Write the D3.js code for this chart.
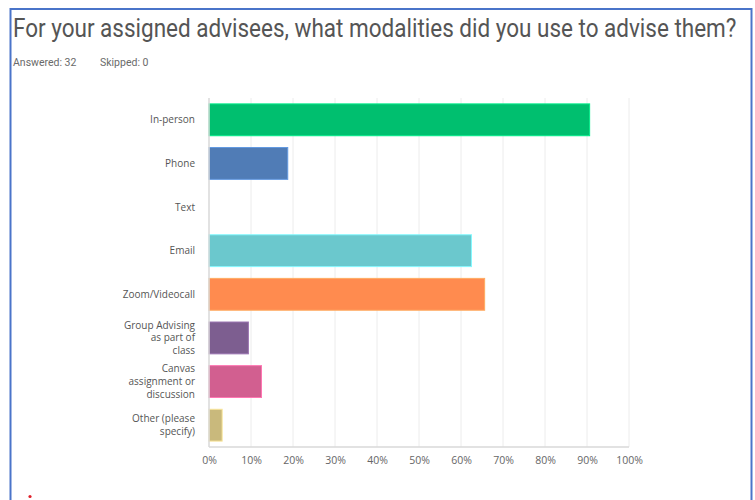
<!DOCTYPE html>
<html>
<head>
<meta charset="utf-8">
<script src="https://cdn.jsdelivr.net/npm/d3@7/dist/d3.min.js"></script>
<style>
  html, body { margin: 0; padding: 0; background: #fff; }
  svg { display: block; }
</style>
</head>
<body>
<script>
// Survey question and response counts
const title = "For your assigned advisees, what modalities did you use to advise them?";
const answered = 32;
const skipped = 0;

const categories = [
  ["In-person"],
  ["Phone"],
  ["Text"],
  ["Email"],
  ["Zoom/Videocall"],
  ["Group Advising", "as part of", "class"],
  ["Canvas", "assignment or", "discussion"],
  ["Other (please", "specify)"]
];
// share of respondents choosing each modality (%)
const values = [90.63, 18.75, 0, 62.5, 65.63, 9.38, 12.5, 3.13];
const colors = ["#00bf6f", "#507cb6", "#f9be00", "#6bc8cd", "#ff8b4f", "#7d5e90", "#d25f90", "#c9b97c"];
const tickValues = [0, 10, 20, 30, 40, 50, 60, 70, 80, 90, 100];

const rows = categories.map((lines, i) => ({ i, lines, value: values[i], color: colors[i] }));

const W = 755, H = 500;
const svg = d3.select("body").append("svg").attr("width", W).attr("height", H);

// panel frame
svg.append("rect")
  .attr("x", 10.5).attr("y", 9).attr("width", 741).attr("height", 520)
  .attr("fill", "none").attr("stroke", "#4a74c9").attr("stroke-width", 2);

// title, horizontally condensed to fit the panel width
const titleG = svg.append("g");
const titleText = titleG.append("text")
  .attr("x", 0).attr("y", 0)
  .attr("font-family", "Roboto, sans-serif").attr("font-size", 25)
  .attr("fill", "#555")
  .text(title);
const naturalW = titleText.node().getComputedTextLength();
const sx = Math.min(1, 724 / naturalW);
titleG.attr("transform", `translate(13,37) scale(${sx},1)`);

const meta = svg.append("text")
  .attr("y", 66)
  .attr("font-family", "Roboto, sans-serif").attr("font-size", 10.5)
  .attr("fill", "#6a6a6a");
meta.append("tspan").attr("x", 13).text(`Answered: ${answered}`);
meta.append("tspan").attr("x", 100).text(`Skipped: ${skipped}`);

const x = d3.scaleLinear().domain([0, 100]).range([209, 629]);
const y = d3.scaleBand().domain(d3.range(categories.length))
  .range([98, 447]).paddingInner(0.27).paddingOuter(0.135);

// vertical gridlines
svg.append("g").selectAll("line").data(tickValues.slice(1)).join("line")
  .attr("x1", d => x(d)).attr("x2", d => x(d))
  .attr("y1", 98).attr("y2", 447)
  .attr("stroke", "#ececec").attr("stroke-width", 1);

// bars
svg.append("g").selectAll("rect").data(rows.filter(r => r.value > 0)).join("rect")
  .attr("x", x(0))
  .attr("y", d => y(d.i))
  .attr("width", d => x(d.value) - x(0))
  .attr("height", y.bandwidth())
  .attr("fill", d => d.color)
  .attr("stroke", d => d3.color(d.color).brighter(0.6))
  .attr("stroke-width", 1);

// axis lines
svg.append("line").attr("x1", x(0)).attr("x2", x(0)).attr("y1", 98).attr("y2", 447)
  .attr("stroke", "#d9d9d9").attr("stroke-width", 1.5);
svg.append("line").attr("x1", x(0)).attr("x2", x(100)).attr("y1", 447).attr("y2", 447)
  .attr("stroke", "#d9d9d9").attr("stroke-width", 1.5);

// x tick labels
const xAxis = d3.axisBottom(x).tickValues(tickValues).tickSize(0).tickPadding(10)
  .tickFormat(d => d + "%");
const gx = svg.append("g").attr("transform", "translate(0,447)").call(xAxis);
gx.select(".domain").remove();
gx.selectAll("text")
  .attr("font-family", "'Open Sans', sans-serif").attr("font-size", 10.5)
  .attr("fill", "#666");

// category labels
const lineH = 12.6;
const lab = svg.append("g").selectAll("text").data(rows).join("text")
  .attr("text-anchor", "end")
  .attr("font-family", "'Open Sans', sans-serif").attr("font-size", 10)
  .attr("fill", "#555");
lab.each(function(r) {
  const cy = y(r.i) + y.bandwidth() / 2;
  const t0 = cy - (r.lines.length - 1) * lineH / 2;
  d3.select(this).selectAll("tspan").data(r.lines).join("tspan")
    .attr("x", 195)
    .attr("y", (d, k) => t0 + k * lineH)
    .attr("dy", "0.35em")
    .text(d => d);
});

// small red mark near the bottom-left corner
svg.append("circle").attr("cx", 30).attr("cy", 496.5).attr("r", 1.6).attr("fill", "#e0202a");
</script>
</body>
</html>
